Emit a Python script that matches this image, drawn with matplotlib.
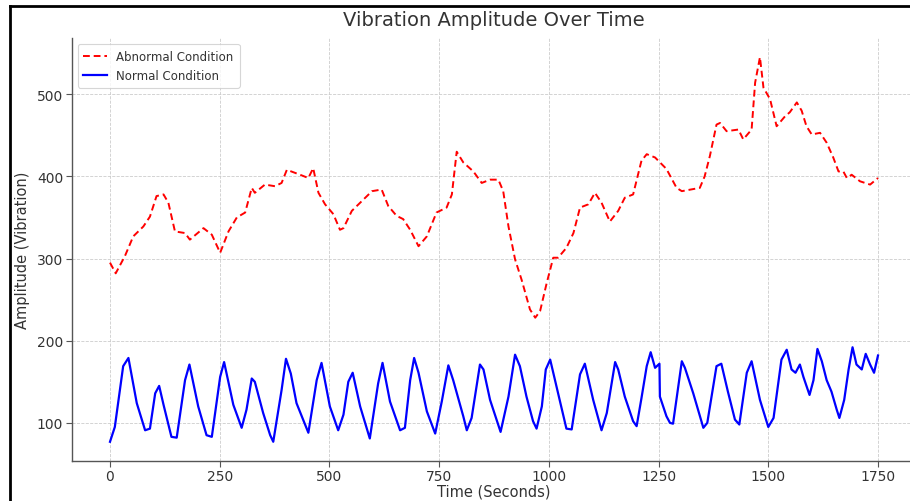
import matplotlib
matplotlib.use("Agg")
import matplotlib.pyplot as plt
from matplotlib.lines import Line2D

abnormal_time = [0, 13, 34, 53, 76, 91, 106, 122, 133, 148, 171, 182, 213, 232, 251, 270, 289, 308,
                 323, 330, 353, 376, 391, 403, 433, 452, 463, 475, 490, 509, 524, 532, 551, 574,
                 597, 619, 634, 653, 668, 684, 703, 722, 744, 767, 779, 790, 805, 828, 847, 866,
                 885, 896, 908, 923, 938, 957, 969, 980, 995, 1010, 1021, 1040, 1056, 1071, 1090,
                 1105, 1120, 1139, 1158, 1173, 1192, 1211, 1223, 1242, 1268, 1291, 1303, 1344,
                 1355, 1367, 1382, 1390, 1405, 1432, 1443, 1462, 1470, 1481, 1489, 1504, 1519,
                 1538, 1549, 1565, 1576, 1587, 1599, 1618, 1633, 1648, 1660, 1671, 1679, 1690,
                 1709, 1732, 1750]
abnormal_amp = [295, 282, 303, 327, 339, 351, 376, 378, 368, 333, 331, 323, 337, 329, 307, 333, 350, 356,
                386, 380, 390, 388, 392, 408, 402, 398, 410, 380, 366, 354, 335, 337, 358, 370,
                382, 384, 364, 352, 348, 335, 315, 327, 356, 362, 378, 430, 417, 406, 392, 396,
                396, 382, 339, 299, 274, 238, 228, 236, 270, 301, 301, 313, 331, 362, 366,
                380, 368, 345, 358, 374, 378, 419, 427, 423, 409, 386, 382, 386,
                400, 425, 463, 465, 455, 457, 445, 457, 514, 545, 508, 494, 461,
                473, 478, 490, 480, 461, 451, 453, 441, 423, 406, 406, 398, 402,
                394, 390, 398]

normal_time = [0, 11, 30, 42, 61, 80, 91, 103, 112, 122, 140, 152, 171, 181, 201, 220, 232, 251, 260,
               281, 300, 311, 323, 330, 349, 365, 372, 391, 401, 412, 425, 440, 452, 471, 482, 501,
               520, 532, 543, 553, 570, 592, 611, 621, 638, 661, 672, 684, 693, 703, 722, 741, 756,
               771, 782, 805, 813, 824, 843, 851, 866, 890, 908, 923, 934, 949, 964, 972, 984, 993,
               1003, 1021, 1040, 1052, 1071, 1082, 1101, 1120, 1132, 1151, 1158, 1173, 1192, 1200,
               1211, 1223, 1232, 1242, 1252, 1253, 1268, 1276, 1283, 1303, 1310, 1329, 1352, 1361,
               1382, 1393, 1408, 1424, 1434, 1451, 1462, 1481, 1500, 1512, 1530, 1542, 1553, 1562,
               1572, 1580, 1594, 1603, 1612, 1622, 1633, 1644, 1656, 1662, 1673, 1683, 1692, 1701,
               1713, 1722, 1732, 1741, 1750]
normal_amp = [77, 95, 169, 179, 124, 91, 93, 136, 145, 122, 83, 82, 152, 171, 120, 85, 83, 156, 174,
              122, 94, 116, 154, 150, 112, 85, 77, 140, 178, 160, 124, 104, 88, 152, 173, 120,
              91, 110, 150, 161, 120, 81, 148, 173, 126, 91, 94, 152, 179, 161, 114, 87, 126,
              170, 152, 108, 91, 106, 171, 165, 128, 89, 132, 183, 169, 132, 102, 93, 120, 165,
              177, 136, 93, 92, 159, 172, 128, 91, 112, 174, 165, 132, 102, 96,
              130, 169, 186, 167, 172, 132, 108, 100, 99, 175, 167, 136, 94, 100,
              169, 172, 138, 104, 98, 161, 175, 128, 95, 106, 177, 189, 165, 161,
              171, 156, 134, 152, 190, 175, 152, 138, 116, 106, 128, 165, 192, 171,
              165, 184, 171, 161, 182]

plt.rcParams['font.family'] = ['DejaVu Sans']

fig = plt.figure(figsize=(9.10, 5.02), dpi=100)
ax = fig.add_axes([71.6 / 910, 40 / 502, 844.8 / 910, 423 / 502])

ax.plot(abnormal_time, abnormal_amp, color='red', linestyle='--', linewidth=1.4,
        dashes=(3.5, 2), label='Abnormal Condition')
ax.plot(normal_time, normal_amp, color='blue', linestyle='-', linewidth=1.6,
        label='Normal Condition')

ax.set_xlim(-87.5, 1837.5)
ax.set_ylim(53.6, 568.4)
ax.set_xticks([0, 250, 500, 750, 1000, 1250, 1500, 1750])
ax.set_yticks([100, 200, 300, 400, 500])
ax.grid(True, linestyle='--', color='#cccccc', linewidth=0.6)
ax.set_axisbelow(True)

for s in ['top', 'right']:
    ax.spines[s].set_visible(False)
for s in ['left', 'bottom']:
    ax.spines[s].set_color('#555555')
    ax.spines[s].set_linewidth(1.0)
ax.tick_params(colors='#333333', labelsize=10, length=4, color='#555555', pad=2)

ax.set_title('Vibration Amplitude Over Time', fontsize=14, color='#333333', pad=9)
ax.set_xlabel('Time (Seconds)', fontsize=10.5, color='#333333', labelpad=0)
ax.set_ylabel('Amplitude (Vibration)', fontsize=10.5, color='#333333', labelpad=5)

leg = ax.legend(loc='upper left', fontsize=8.5, frameon=True, borderpad=0.5,
                handlelength=2.0, labelspacing=0.5)
leg.get_frame().set_edgecolor('#cccccc')
leg.get_frame().set_linewidth(0.8)
for t in leg.get_texts():
    t.set_color('#333333')

# outer screenshot frame (top and left edges)
fig.add_artist(Line2D([10 / 910, 1.0], [1 - 7 / 502, 1 - 7 / 502], transform=fig.transFigure,
                      color='black', linewidth=2.0))
fig.add_artist(Line2D([10 / 910, 10 / 910], [0.0, 1 - 7 / 502], transform=fig.transFigure,
                      color='black', linewidth=2.0))

fig.savefig('out.png', dpi=100)
